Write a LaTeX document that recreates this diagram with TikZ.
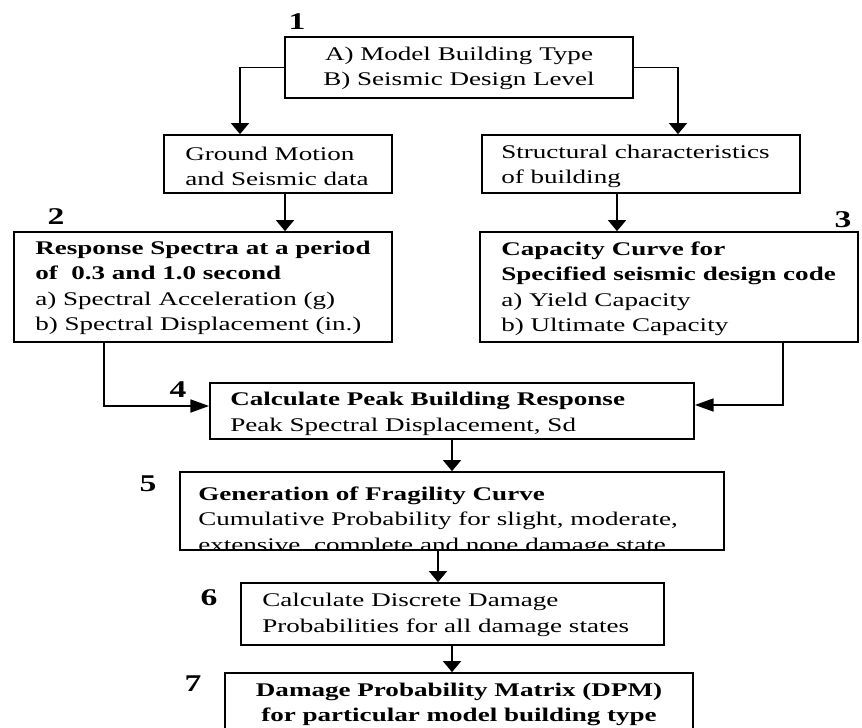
\documentclass[tikz,border=0pt]{standalone}
\usepackage{fontspec}
\setmainfont{Liberation Serif}[FakeStretch=1.4]
\usetikzlibrary{arrows.meta}
\begin{document}
\begin{tikzpicture}[x=0.75pt,y=-0.75pt,
  box/.style={draw, line width=1.3pt, inner sep=0pt},
  txt/.style={inner sep=0pt, font=\fontsize{14.5}{19.1}\selectfont},
  num/.style={inner sep=0pt, font=\fontsize{18}{20}\selectfont\bfseries},
  varrow/.style={-{Triangle[length=8.25pt,width=13.5pt]}, line width=1.2pt},
  harrow/.style={-{Triangle[length=14pt,width=9.75pt]}, line width=1.2pt}]
\useasboundingbox (0,0) rectangle (862,727);
\clip (0,0) rectangle (862,727);

% boxes
\node[box, minimum width=261pt,    minimum height=45.75pt] (b1) at (459,67.5) {};
\node[box, minimum width=171pt,    minimum height=43.5pt]  (gm) at (278,164) {};
\node[box, minimum width=238.5pt,  minimum height=43.5pt]  (sc) at (641,164) {};
\node[box, minimum width=283.5pt,  minimum height=82.5pt]  (b2) at (203,287) {};
\node[box, minimum width=283.5pt,  minimum height=82.5pt]  (b3) at (669,287) {};
\node[box, minimum width=363pt,    minimum height=42pt]    (b4) at (452,411) {};
\node[box, minimum width=317.25pt, minimum height=46.5pt]  (b6) at (452.5,614) {};
\node[box, minimum width=351pt,    minimum height=65.25pt] (b7) at (459,716.5) {};

% texts
\node[txt, align=center] (t1) at (459,68.5) {A) Model Building Type\\B) Seismic Design Level};
\node[txt, anchor=west, align=left] (tgm) at (185,166.5) {Ground Motion\\and Seismic data};
\node[txt, anchor=west, align=left] (tsc) at (501,166.5) {Structural characteristics\\of building};
\node[txt, anchor=west, align=left] (t2) at (35,287.75) {\textbf{Response Spectra at a period}\\\textbf{of\ \ 0.3 and 1.0 second}\\a) Spectral Acceleration (g)\\b) Spectral Displacement (in.)};
\node[txt, anchor=west, align=left] (t3) at (501,289) {\textbf{Capacity Curve for}\\\textbf{Specified seismic design code}\\a) Yield Capacity\\b) Ultimate Capacity};
\node[txt, anchor=west, align=left] (t4) at (230,414) {\textbf{Calculate Peak Building Response}\\Peak Spectral Displacement, Sd};
\begin{scope}
  \clip (180,472) rectangle (724,548);
  \node[txt, anchor=west, align=left] (t5) at (198,521) {\textbf{Generation of Fragility Curve}\\Cumulative Probability for slight, moderate,\\extensive, complete and none damage state.};
\end{scope}
\node[box, minimum width=408pt, minimum height=58.5pt] (b5) at (452,511) {};
\node[txt, anchor=west, align=left] (t6) at (262,615) {Calculate Discrete Damage\\Probabilities for all damage states};
\node[txt, align=center] (t7) at (459,704.5) {\textbf{Damage Probability Matrix (DPM)}\\\textbf{for particular model building type}};

% step numbers
\node[num] (n1) at (297,22) {1};
\node[num] (n2) at (56,217) {2};
\node[num] (n3) at (843,220) {3};
\node[num] (n4) at (178,390) {4};
\node[num] (n5) at (148,484) {5};
\node[num] (n6) at (209,598) {6};
\node[num] (n7) at (193,684) {7};

% connectors
\coordinate (k1) at (240,67);
\coordinate (k2) at (678,67);
\coordinate (k3) at (285,0);
\coordinate (k4) at (617,0);
\coordinate (k5) at (104,406);
\coordinate (k6) at (783,405);
\coordinate (k7) at (452,0);
\coordinate (k8) at (438,0);
\draw[varrow] (b1.west) -| (k1 |- gm.north);
\draw[varrow] (b1.east) -| (k2 |- sc.north);
\draw[varrow] (k3 |- gm.south) -- (k3 |- b2.north);
\draw[varrow] (k4 |- sc.south) -- (k4 |- b3.north);
\draw[harrow] (k5 |- b2.south) |- (b4.west |- k5);
\draw[harrow] (k6 |- b3.south) |- (b4.east |- k6);
\draw[varrow] (k7 |- b4.south) -- (k7 |- b5.north);
\draw[varrow] (k8 |- b5.south) -- (k8 |- b6.north);
\draw[varrow] (k7 |- b6.south) -- (k7 |- b7.north);
\end{tikzpicture}
\end{document}
